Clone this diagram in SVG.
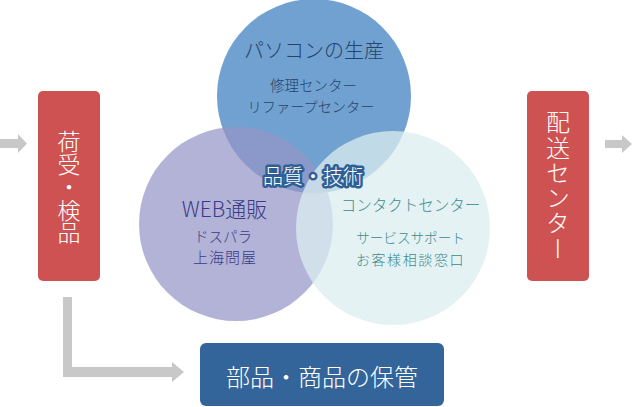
<svg xmlns="http://www.w3.org/2000/svg" width="632" height="407" viewBox="0 0 632 407">
<style>
text{font-family:"Noto Sans CJK JP","Noto Sans CJK SC",sans-serif;font-weight:300;}
.red{fill:#cf5252;}
.arrow{fill:#c8c8c8;}
.wv{fill:#ffffff;}
.t-top{fill:#26446b;}
.t-web{fill:#3b3b8a;}
.t-con{fill:#3a8a8c;}
</style>
<rect width="632" height="407" fill="#ffffff"/>
<g id="connectors">
<path class="arrow" d="M0,139 H18 V134 L27,143.5 L18,153 V148 H0 Z"/>
<path class="arrow" d="M605,140 H622 V135 L632,144 L622,153 V148 H605 Z"/>
<path class="arrow" d="M63,297 H72 V367 H172 V362 L184,372 L172,382 V377 H63 Z"/>
</g>
<g id="node-nyuka">
<rect class="red" x="38" y="91" width="62" height="190" rx="5"/>
<text class="wv" x="69" y="187" font-size="23" writing-mode="vertical-rl" text-anchor="middle" letter-spacing="-0.3">荷受・検品</text>
</g>
<g id="node-pc">
<circle cx="314" cy="96" r="97" fill="#70a1d0"/>
</g>
<g id="node-web">
<circle cx="236" cy="224" r="97" fill="#9696c7" fill-opacity="0.72"/>
</g>
<g id="node-contact">
<circle cx="393" cy="228" r="97" fill="#dbeef0" fill-opacity="0.75"/>
</g>
<g id="node-pc-text">
<text class="t-top" x="314" y="58" font-size="20" text-anchor="middle">パソコンの生産</text>
<text class="t-top" x="313.5" y="91" font-size="14.5" text-anchor="middle">修理センター</text>
<text class="t-top" x="311" y="112" font-size="14.2" text-anchor="middle">リファープセンター</text>
</g>
<g id="node-web-text">
<text class="t-web" x="224.5" y="217" font-size="21" text-anchor="middle">WEB通販</text>
<text class="t-web" x="223" y="242" font-size="14.5" text-anchor="middle">ドスパラ</text>
<text class="t-web" x="225" y="263" font-size="15" letter-spacing="1" text-anchor="middle">上海問屋</text>
</g>
<g id="node-contact-text">
<text class="t-con" x="410.5" y="211" font-size="15.5" text-anchor="middle">コンタクトセンター</text>
<text class="t-con" x="410.5" y="243" font-size="13.6" text-anchor="middle">サービスサポート</text>
<text class="t-con" x="410.5" y="265" font-size="14" letter-spacing="1.6" text-anchor="middle">お客様相談窓口</text>
</g>
<g id="node-quality">
<text x="313" y="175" font-size="20" font-weight="bold" text-anchor="middle" dominant-baseline="central" fill="#ffffff" stroke="#2f5f94" stroke-width="5" stroke-linejoin="round" paint-order="stroke">品質・技術</text>
</g>
<g id="node-haiso">
<rect class="red" x="527" y="91" width="62" height="190" rx="5"/>
<text class="wv" x="558" y="186" font-size="24" writing-mode="vertical-rl" text-anchor="middle" letter-spacing="1.3">配送センター</text>
</g>
<g id="node-hokan">
<rect x="200" y="343" width="244" height="63" rx="6" fill="#33659a"/>
<text x="322" y="386" font-size="24" text-anchor="middle" fill="#ffffff">部品・商品の保管</text>
</g>
</svg>
